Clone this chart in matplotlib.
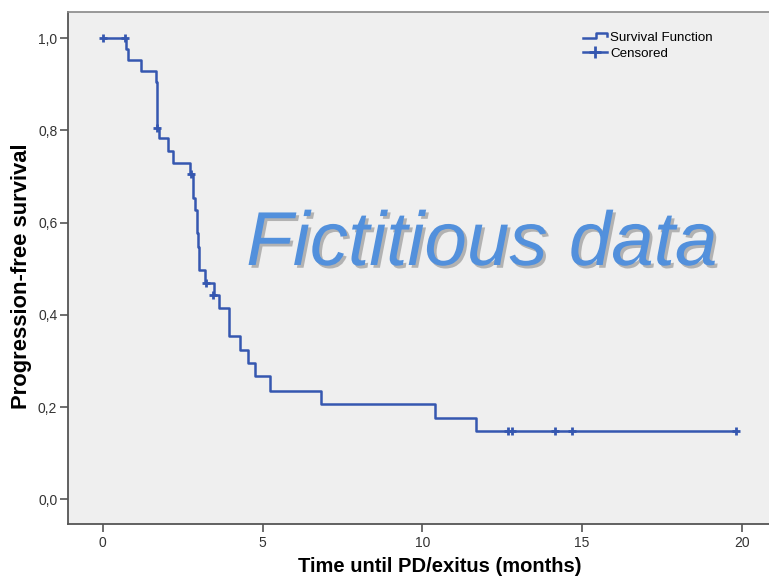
import matplotlib
matplotlib.use('Agg')
import matplotlib.pyplot as plt
import matplotlib.patheffects as pe
from matplotlib.lines import Line2D
from matplotlib.legend_handler import HandlerBase
from matplotlib.ticker import FuncFormatter

plt.rcParams['font.family'] = ['Liberation Sans', 'DejaVu Sans']

# Kaplan-Meier steps: event times (months) and survival after each event
event_times = [0.0, 0.71, 0.79, 1.21, 1.65, 1.70, 1.76, 2.04, 2.20, 2.74, 2.82, 2.90,
               2.95, 2.98, 3.00, 3.19, 3.47, 3.63, 3.94, 4.28, 4.54, 4.75, 5.22,
               6.83, 10.40, 11.68, 19.82]
survival = [1.0, 0.977, 0.953, 0.928, 0.905, 0.805, 0.783, 0.756, 0.730, 0.705, 0.653, 0.627,
            0.578, 0.548, 0.497, 0.470, 0.443, 0.414, 0.354, 0.324, 0.295, 0.267, 0.236,
            0.207, 0.177, 0.148, 0.148]

# censored observations
cens_times = [0.0, 0.69, 1.70, 2.77, 3.22, 3.44, 12.67, 12.82, 14.15, 14.68, 19.82]
cens_surv = [1.0, 1.0, 0.805, 0.705, 0.470, 0.443, 0.148, 0.148, 0.148, 0.148, 0.148]

x_ticks = [0, 5, 10, 15, 20]
y_ticks = [0.0, 0.2, 0.4, 0.6, 0.8, 1.0]

line_col = '#3557B0'
axis_col = '#555555'


class StepHandler(HandlerBase):
    def create_artists(self, legend, orig_handle, xdescent, ydescent, width, height, fontsize, trans):
        x0, y0 = -xdescent, -ydescent
        xs = [x0, x0 + 0.55 * width, x0 + 0.55 * width, x0 + width, x0 + width]
        ys = [y0 + 0.3 * height, y0 + 0.3 * height, y0 + 0.85 * height, y0 + 0.85 * height, y0 + 0.5 * height]
        ln = Line2D(xs, ys, color=line_col, lw=1.8, transform=trans)
        return [ln]


fig = plt.figure(figsize=(7.69, 5.81), dpi=100)
ax = fig.add_axes([67.7 / 769, 56.7 / 581, (812 - 67.7) / 769, 512 / 581])
ax.set_facecolor('#EFEFEF')

ax.step(event_times, survival, where='post', color=line_col, lw=1.8, zorder=3)
ax.plot(cens_times, cens_surv, linestyle='none', marker='+', markersize=5.5,
        markeredgewidth=2, color=line_col, zorder=4)

ax.set_xlim(-1.10, 22.2)
ax.set_ylim(-0.054, 1.056)
ax.set_xticks(x_ticks)
ax.set_yticks(y_ticks)
ax.yaxis.set_major_formatter(FuncFormatter(lambda v, p: f'{v:.1f}'.replace('.', ',')))

for s in ['left', 'bottom']:
    ax.spines[s].set_color(axis_col)
    ax.spines[s].set_linewidth(1.3)
ax.spines['top'].set_color('#888888')
ax.spines['top'].set_linewidth(1.2)
ax.spines['right'].set_visible(False)
ax.tick_params(direction='out', length=5.5, width=1.2, color=axis_col,
               labelsize=10, labelcolor='#333333')
ax.tick_params(axis='x', pad=3)
ax.tick_params(axis='y', pad=2)

ax.set_xlabel('Time until PD/exitus (months)', fontsize=14.5, fontweight='bold')
ax.set_ylabel('Progression-free survival', fontsize=15.8, fontweight='bold')
ax.yaxis.set_label_coords(-(67.7 - 22) / 744.3, (524.3 - 276.5) / 512)
ax.xaxis.set_label_coords(0.5, -(567 - 524.3) / 512, transform=ax.transAxes)
ax.xaxis.label.set_va('center')
ax.yaxis.label.set_va('center')

# legend
h1 = Line2D([], [], color=line_col)
h2 = Line2D([], [], color=line_col, marker='+', markersize=9, markeredgewidth=2, lw=1.8)
leg = ax.legend([h1, h2], ['Survival Function', 'Censored'],
                handler_map={h1: StepHandler()},
                loc='upper left', bbox_to_anchor=(576 / 769, 1 - 25 / 581),
                bbox_transform=fig.transFigure, frameon=False, fontsize=9.6,
                handlelength=1.85, handletextpad=0.2, labelspacing=0.25, borderpad=0)

# watermark
fig.text(482 / 769, 1 - 265 / 581, 'Fictitious data', fontsize=55, style='italic',
         color='#5290DC', ha='center', va='baseline', zorder=10,
         path_effects=[pe.SimplePatchShadow(offset=(2, -2), shadow_rgbFace='#999999', alpha=0.7),
                       pe.Normal()])

plt.savefig('out.png', dpi=100)
